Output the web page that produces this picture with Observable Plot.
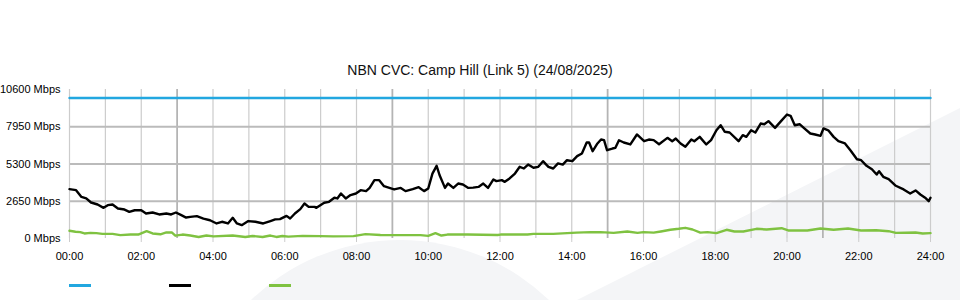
<!DOCTYPE html>
<html>
<head>
<meta charset="utf-8">
<script src="https://cdn.jsdelivr.net/npm/d3@7"></script>
<script src="https://cdn.jsdelivr.net/npm/@observablehq/plot@0.6"></script>
<style>
  html, body { margin: 0; padding: 0; background: #fff; }
  #wrap { position: relative; width: 960px; height: 300px; overflow: hidden; font-family: "Liberation Sans", Arial, sans-serif; }
  #bg { position: absolute; top: 0; left: 0; }
  #title { position: absolute; top: 62px; left: 0; width: 960px; text-align: center; font-size: 14px; color: #111; }
  #chart { position: absolute; top: 0; left: 0; }
  #legend { position: absolute; top: 284px; left: 69px; display: flex; }
  #legend span { display: block; width: 22px; height: 2.5px; margin-right: 78px; }
</style>
</head>
<body>
<div id="wrap">
  <svg id="bg" width="960" height="300" aria-hidden="true">
    <circle cx="400" cy="455" r="215" fill="#f4f5f7"></circle>
    <polygon points="577,300 960,108 960,300" fill="#f4f5f7"></polygon>
  </svg>
  <div id="chart"></div>
  <div id="title"></div>
  <div id="legend"></div>
</div>
<script>
const titleText = "NBN CVC: Camp Hill (Link 5) (24/08/2025)";

// Time axis in minutes since midnight
const xTicks = [0, 120, 240, 360, 480, 600, 720, 840, 960, 1080, 1200, 1320, 1440];
const yTicks = [0, 2650, 5300, 7950, 10600];
const hourGrid = [60, 120, 240, 300, 360, 420, 480, 600, 660, 720, 780, 840, 960, 1020, 1080, 1140, 1200, 1320, 1380];
const sixHourGrid = [180, 540, 900, 1260];
const midGrid = [2650, 5300, 7950];

// Capacity (blue)
const capTimes = [0, 1440];
const capMbps = [10000, 10000];

// Traffic (black)
const downTimes = [0,11,20,28,36,47,57,64,72,81,92,100,109,120,128,139,150,162,170,178,187,195,202,213,224,235,246,255,265,273,280,288,299,311,324,336,344,352,363,369,377,386,393,400,410,413,426,434,443,448,454,462,470,479,487,496,502,510,518,526,535,543,554,562,574,584,593,600,607,614,619,628,633,642,650,658,667,675,684,692,700,709,714,723,728,736,745,753,760,767,776,784,792,801,809,817,825,832,841,849,857,865,869,875,883,889,894,899,908,913,919,927,938,949,961,969,977,986,1000,1008,1014,1022,1030,1040,1045,1054,1065,1073,1082,1089,1096,1104,1119,1126,1132,1140,1147,1156,1162,1169,1180,1190,1200,1206,1213,1221,1229,1239,1247,1256,1261,1269,1278,1286,1297,1306,1317,1324,1333,1342,1350,1354,1361,1370,1382,1395,1406,1415,1423,1431,1437,1440];
const downMbps = [3510,3440,2960,2850,2560,2420,2180,2370,2420,2130,2060,1900,2010,2010,1780,1850,1710,1780,1710,1850,1660,1490,1540,1590,1420,1300,1070,1190,1070,1470,1070,950,1240,1190,1070,1240,1360,1380,1610,1420,1780,2090,2490,2250,2250,2180,2540,2610,2900,2850,3200,2850,3090,3200,3440,3370,3600,4150,4150,3720,3600,3490,3600,3370,3510,3650,3370,3560,4620,5170,4500,3600,3910,3600,3910,3840,3600,3620,3670,3910,3600,4200,4080,4150,4030,4270,4620,5100,4980,5260,5030,5100,5500,5100,4980,5340,5260,5570,5500,5860,6050,6830,6830,6210,6760,7040,7000,6280,6400,6450,6990,6830,6690,7400,6920,7040,7000,6710,7160,6920,7110,6760,6520,7040,6920,7230,6690,7000,7700,8060,7590,7540,6920,7350,7230,7700,7540,8180,8130,8350,7870,8350,8820,8730,8060,8130,7830,7470,7400,7300,7830,7700,7230,6920,6760,6280,5640,5570,5170,4930,4550,4790,4390,4220,3750,3490,3200,3420,3130,2900,2660,2900];

// Traffic (green)
const upTimes = [0,10,18,25,35,45,55,72,85,102,115,129,139,152,162,171,177,189,202,216,229,241,273,294,306,323,336,346,356,366,390,420,441,475,495,520,554,587,600,612,622,632,666,716,721,766,776,809,848,872,888,910,933,950,960,977,989,1005,1019,1030,1042,1055,1067,1082,1099,1112,1127,1149,1166,1191,1202,1234,1256,1278,1302,1324,1349,1370,1382,1415,1427,1440];
const upMbps = [550,480,450,360,400,380,330,330,240,280,280,520,360,300,430,430,200,280,210,110,210,150,210,110,180,110,210,110,180,130,190,170,150,170,310,250,240,240,190,380,210,280,280,250,280,280,330,330,420,450,450,400,500,400,450,420,500,620,690,760,640,420,450,380,620,500,500,690,640,730,570,570,710,620,710,570,590,520,400,430,360,380];

const seriesColors = ["#22a7e0", "#000000", "#7fc241"];

const cap = capTimes.map((t, i) => ({t, v: capMbps[i]}));
const down = downTimes.map((t, i) => ({t, v: downMbps[i]}));
const up = upTimes.map((t, i) => ({t, v: upMbps[i]}));

const fmtTime = m => String(Math.round(m / 60)).padStart(2, "0") + ":00";

const chart = Plot.plot({
  width: 960,
  height: 300,
  marginTop: 89,
  marginBottom: 62,
  marginLeft: 69,
  marginRight: 30,
  style: {fontFamily: "'Liberation Sans', Arial, sans-serif", fontSize: "11px", color: "#000", background: "transparent"},
  x: {domain: [0, 1440], label: null},
  y: {domain: [0, 10600], label: null},
  marks: [
    Plot.ruleX(hourGrid, {stroke: "#cccccc", strokeWidth: 1.2}),
    Plot.ruleX(sixHourGrid, {stroke: "#b4b4b4", strokeWidth: 1.8}),
    Plot.ruleY(midGrid, {stroke: "#bbbbbb", strokeWidth: 1.8}),
    Plot.ruleX([0, 1440], {stroke: "#cccccc", strokeWidth: 1.2}),
    Plot.axisX({ticks: xTicks, tickFormat: fmtTime, tickSize: 4, tickPadding: 10, stroke: "#cccccc", fill: "#000", fontSize: 11}),
    Plot.axisY({ticks: yTicks, tickFormat: d => d + " Mbps", tickSize: 0, tickPadding: 9, fill: "#000", fontSize: 11}),
    Plot.line(up, {x: "t", y: "v", stroke: seriesColors[2], strokeWidth: 2.4}),
    Plot.line(down, {x: "t", y: "v", stroke: seriesColors[1], strokeWidth: 2.4}),
    Plot.line(cap, {x: "t", y: "v", stroke: seriesColors[0], strokeWidth: 2.4})
  ]
});
document.getElementById("chart").appendChild(chart);
document.getElementById("title").textContent = titleText;

const legend = document.getElementById("legend");
seriesColors.forEach(c => {
  const s = document.createElement("span");
  s.style.background = c;
  legend.appendChild(s);
});
</script>
</body>
</html>
